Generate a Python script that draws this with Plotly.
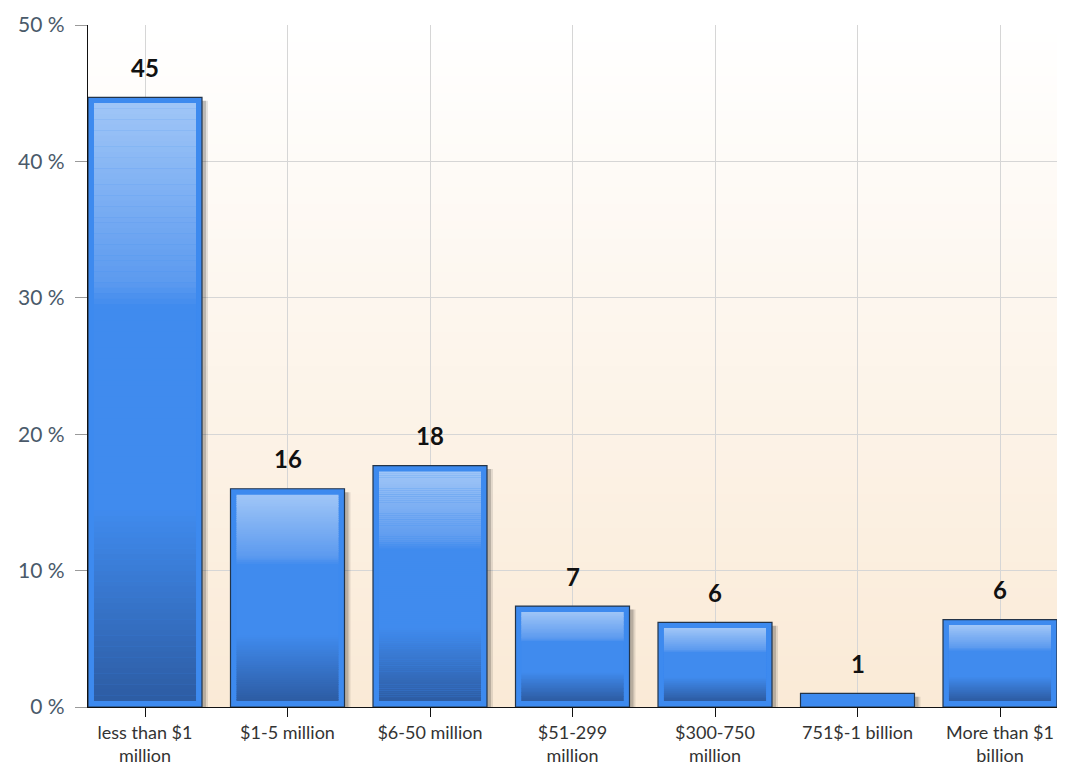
import plotly.graph_objects as go

# Share of respondents by annual revenue band (%)
categories = [
    "less than $1<br>million",
    "$1-5 million",
    "$6-50 million",
    "$51-299<br>million",
    "$300-750<br>million",
    "751$-1 billion",
    "More than $1<br>billion",
]
values = [44.7, 16.0, 17.7, 7.4, 6.2, 1.0, 6.4]
y_ticks = [0, 10, 20, 30, 40, 50]
y_tick_text = [f"{t} %" for t in y_ticks]

FONT = "Lato"
BAR_W = 0.8
INNER_W = 0.716
INSET = 0.44          # inner panel inset, in % units
N_SEG = 110           # gradient slices inside each bar


def lerp(c1, c2, t):
    return tuple(round(a + (b - a) * t) for a, b in zip(c1, c2))


def bar_gradient(t):
    """Colour of the inner bar panel; t = 0 at the top, 1 at the bottom."""
    stops = [
        (0.00, (160, 198, 247)),
        (0.30, (92, 154, 239)),
        (0.34, (64, 139, 238)),
        (0.68, (64, 139, 238)),
        (1.00, (45, 92, 163)),
    ]
    for (t0, c0), (t1, c1) in zip(stops, stops[1:]):
        if t <= t1:
            return lerp(c0, c1, (t - t0) / (t1 - t0))
    return stops[-1][1]


fig = go.Figure()

# soft drop shadow to the lower right of each bar
for shift, alpha in [(0.042, 0.10), (0.028, 0.18)]:
    fig.add_trace(go.Bar(
        x=categories, y=values, base=[-0.25] * len(values),
        width=BAR_W, offset=-BAR_W / 2 + shift,
        marker=dict(color=f"rgba(0,0,0,{alpha})", line=dict(width=0)),
        hoverinfo="skip", showlegend=False,
    ))

# outer bar: bright blue frame with a dark outline
fig.add_trace(go.Bar(
    x=categories, y=values, width=BAR_W,
    marker=dict(color="#3d8aef", line=dict(color="#233449", width=1.2)),
    showlegend=False,
    hovertemplate="%{x}: %{y:.0f} %<extra></extra>",
))

# inner panel: vertical gradient built from stacked slices of each bar
# (bars too short to hold a panel stay plain blue)
inner_h = [v - 2 * INSET if v - 2 * INSET > 0.6 else 0 for v in values]
for i in range(N_SEG):
    t = (i + 0.5) / N_SEG
    r, g, b = bar_gradient(t)
    seg_h = [h / N_SEG * 1.05 if h > 0 else 0 for h in inner_h]
    seg_base = [INSET + h * (1 - (i + 1) / N_SEG) for h in inner_h]
    fig.add_trace(go.Bar(
        x=categories, y=seg_h, base=seg_base, width=INNER_W,
        marker=dict(color=f"rgb({r},{g},{b})", line=dict(width=0)),
        hoverinfo="skip", showlegend=False,
    ))

# value labels above the bars
for cat, v in zip(categories, values):
    fig.add_annotation(
        x=cat, y=v, text=f"{v:.0f}", showarrow=False,
        yanchor="middle", yshift=30,
        font=dict(family=FONT, size=24, color="#111111", weight="bold"),
    )

# plot background: white at the top fading to a pale peach at the base
top, bottom = (255, 255, 255), (250, 234, 214)
n_bg = 80
for k in range(n_bg):
    r, g, b = lerp(bottom, top, k / (n_bg - 1))
    fig.add_shape(
        type="rect", xref="x domain", yref="y domain",
        x0=0, x1=1, y0=k / n_bg, y1=min((k + 1.3) / n_bg, 1),
        fillcolor=f"rgb({r},{g},{b})", line=dict(width=0), layer="below",
    )

fig.update_layout(
    width=1065, height=768,
    margin=dict(l=88, r=8, t=25, b=61),
    barmode="overlay",
    paper_bgcolor="white", plot_bgcolor="white",
    font=dict(family=FONT),
    xaxis=dict(
        type="category", range=[-0.4, 6.4], automargin=False,
        showgrid=True, gridcolor="#d6d6d6", gridwidth=1,
        showline=True, linecolor="#111111", linewidth=1.2,
        ticks="outside", ticklen=9, tickcolor="#111111",
        ticklabelstandoff=0,
        tickfont=dict(family=FONT, size=18, color="#333333"),
    ),
    yaxis=dict(
        range=[0, 50], automargin=False,
        tickmode="array", tickvals=y_ticks, ticktext=y_tick_text,
        showgrid=True, gridcolor="#d6d6d6", gridwidth=1, zeroline=False,
        showline=True, linecolor="#111111", linewidth=1.2,
        ticks="outside", ticklen=12, tickcolor="#9a9a9a",
        ticklabelstandoff=6,
        tickfont=dict(family=FONT, size=21, color="#4a5a6a"),
    ),
)

fig.write_html("out.html")
